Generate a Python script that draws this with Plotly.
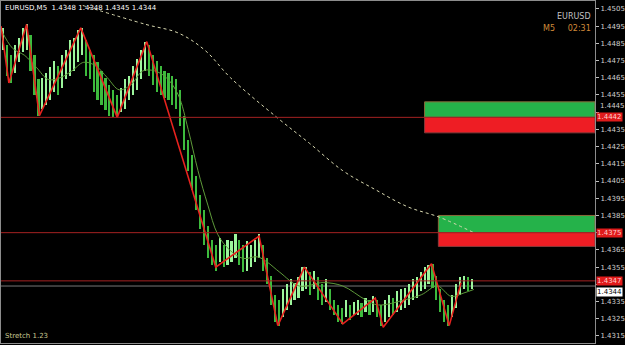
import plotly.graph_objects as go

# ---------------- data ----------------
bar_high = [1.4494, 1.4484, 1.4478, 1.4484, 1.4488, 1.4494, 1.4496, 1.4490, 1.4478, 1.4464,
            1.4465, 1.4468, 1.4471, 1.4475, 1.4472, 1.4478, 1.4481, 1.4487, 1.4488, 1.4493,
            1.4494, 1.4487, 1.4481, 1.4478, 1.4474, 1.4469, 1.4465, 1.4461, 1.4458, 1.4455,
            1.4459, 1.4464, 1.4466, 1.4472, 1.4476, 1.4481, 1.4486, 1.4484, 1.4478, 1.4475,
            1.4472, 1.4469, 1.4468, 1.4466, 1.4464, 1.4458, 1.4443, 1.4429, 1.4420, 1.4408,
            1.4397, 1.4388, 1.4379, 1.4371, 1.4368, 1.4372, 1.4368, 1.4371, 1.4370, 1.4374,
            1.4371, 1.4368, 1.4370, 1.4368, 1.4371, 1.4374, 1.4368, 1.4360, 1.4350, 1.4339,
            1.4336, 1.4342, 1.4345, 1.4348, 1.4346, 1.4349, 1.4355, 1.4355, 1.4352, 1.4353,
            1.4349, 1.4345, 1.4348, 1.4342, 1.4336, 1.4333, 1.4331, 1.4336, 1.4333, 1.4335,
            1.4336, 1.4334, 1.4337, 1.4336, 1.4338, 1.4336, 1.4333, 1.4336, 1.4339, 1.4337,
            1.4341, 1.4342, 1.4343, 1.4345, 1.4348, 1.4349, 1.4352, 1.4355, 1.4356, 1.4357,
            1.4350, 1.4342, 1.4336, 1.4333, 1.4339, 1.4345, 1.4349, 1.4350, 1.4349, 1.4348]
bar_low = [1.4481, 1.4466, 1.4462, 1.4468, 1.4474, 1.4480, 1.4481, 1.4469, 1.4455, 1.4443,
           1.4447, 1.4449, 1.4452, 1.4457, 1.4455, 1.4459, 1.4464, 1.4466, 1.4469, 1.4474,
           1.4478, 1.4466, 1.4464, 1.4457, 1.4452, 1.4449, 1.4446, 1.4443, 1.4442, 1.4442,
           1.4445, 1.4447, 1.4452, 1.4455, 1.4458, 1.4464, 1.4469, 1.4466, 1.4461, 1.4457,
           1.4455, 1.4453, 1.4452, 1.4449, 1.4447, 1.4437, 1.4423, 1.4411, 1.4400, 1.4388,
           1.4377, 1.4368, 1.4360, 1.4356, 1.4353, 1.4358, 1.4355, 1.4356, 1.4358, 1.4360,
           1.4356, 1.4352, 1.4353, 1.4355, 1.4358, 1.4360, 1.4353, 1.4345, 1.4333, 1.4323,
           1.4321, 1.4326, 1.4330, 1.4333, 1.4336, 1.4337, 1.4341, 1.4342, 1.4339, 1.4342,
           1.4336, 1.4333, 1.4335, 1.4330, 1.4327, 1.4323, 1.4322, 1.4326, 1.4324, 1.4327,
           1.4327, 1.4326, 1.4329, 1.4327, 1.4329, 1.4326, 1.4321, 1.4323, 1.4326, 1.4327,
           1.4329, 1.4330, 1.4331, 1.4333, 1.4336, 1.4337, 1.4341, 1.4342, 1.4345, 1.4343,
           1.4336, 1.4329, 1.4323, 1.4321, 1.4326, 1.4331, 1.4339, 1.4342, 1.4341, 1.4342]

zigzag_idx = [-0.5, 1.5, 6, 9.25, 19.75, 29, 36.5, 54, 65, 69.75, 76.5, 86.25, 94.5, 96.5, 108.75, 113.25, 116.25]
zigzag_price = [1.4495, 1.4462, 1.4496, 1.4443, 1.4494, 1.4442, 1.4486, 1.4355, 1.4373, 1.4321,
                1.4355, 1.4322, 1.4337, 1.4320, 1.4357, 1.4321, 1.4346]

ma_fast_idx = [-0.5, 2.5, 5.5, 8.5, 11.5, 14.5, 17.5, 20.5, 23.5, 26.5, 29.5, 32.5, 35.5, 38.5, 41.5,
               44.5, 47, 49.5, 52, 54.5, 57.5, 61, 64.5, 67, 70.25, 75.25, 81.25, 86.25, 92, 95.25,
               102, 106.25, 110.25, 113.75, 117, 119.5]
ma_fast = [1.4493, 1.4482, 1.4478, 1.4471, 1.4464, 1.4465, 1.4469, 1.4474, 1.4472, 1.4465, 1.4458,
           1.4461, 1.4469, 1.4469, 1.4465, 1.4455, 1.4435, 1.4411, 1.4391, 1.4374, 1.4365, 1.4360,
           1.4361, 1.4358, 1.4352, 1.4344, 1.4346, 1.4344, 1.4336, 1.4333, 1.4336, 1.4339, 1.4344,
           1.4338, 1.4340, 1.4342]

ma_slow_idx = [20.25, 36.25, 44.5, 51.25, 57.75, 69.5, 77.75, 86.25, 94.5, 102.75, 110.75, 119.5]
ma_slow = [1.4507, 1.4496, 1.4491, 1.4481, 1.4465, 1.4442, 1.4427, 1.4411, 1.4400, 1.4390, 1.4384, 1.4375]

level_lines = [1.4442, 1.4375, 1.4347]
level_labels = ["1.4442", "1.4375", "1.4347"]
bid_price = 1.4344

zones = [  # start index, green top, mid, red bottom
    (107.0, 1.4451, 1.4442, 1.4433),
    (110.5, 1.4385, 1.4375, 1.4367),
]

tick_values = [round(1.4315 + 0.001 * k, 4) for k in range(20)]
hidden_ticks = [1.4375, 1.4345]   # covered by the price labels
raised_ticks = [1.4445]           # drawn slightly above the 1.4442 label
tick_text = ["" if (v in hidden_ticks or v in raised_ticks) else "%.4f" % v for v in tick_values]

header_text = "EURUSD,M5  1.4348 1.4348 1.4345 1.4344"
footer_text = "Stretch 1.23"

# ---------------- figure ----------------
X_MIN, X_MAX = -0.5, 150.25
Y_MIN, Y_MAX = 1.43109, 1.45096

idx = list(range(len(bar_high)))
colors = []
for i in idx:
    mid = (bar_high[i] + bar_low[i]) / 2
    prev = (bar_high[i - 1] + bar_low[i - 1]) / 2 if i > 0 else mid
    colors.append("#9CF59C" if mid >= prev else "#3DBB3D")

fig = go.Figure()

shapes = []
for (x0, gtop, mid, rbot) in zones:
    shapes.append(dict(type="rect", xref="x", yref="y", x0=x0, x1=X_MAX, y0=mid, y1=gtop,
                       fillcolor="#25B24A", line=dict(color="#8A6A3A", width=1), layer="below"))
    shapes.append(dict(type="rect", xref="x", yref="y", x0=x0, x1=X_MAX, y0=rbot, y1=mid,
                       fillcolor="#EE1D24", line=dict(color="#8A3A3A", width=1), layer="below"))
for lv in level_lines:
    shapes.append(dict(type="line", xref="paper", yref="y", x0=0, x1=1, y0=lv, y1=lv,
                       line=dict(color="#A52222", width=1), layer="above"))
shapes.append(dict(type="line", xref="paper", yref="y", x0=0, x1=1, y0=bid_price, y1=bid_price,
                   line=dict(color="#777777", width=1), layer="below"))

fig.add_trace(go.Bar(x=idx, y=[h - l for h, l in zip(bar_high, bar_low)], base=bar_low,
                     width=0.55, marker=dict(color=colors, line=dict(width=0)),
                     hoverinfo="skip"))

fig.add_trace(go.Scatter(x=ma_slow_idx, y=ma_slow, mode="lines",
                         line=dict(color="#D8D8B0", width=1, dash="dot", shape="spline"),
                         hoverinfo="skip"))
fig.add_trace(go.Scatter(x=ma_fast_idx, y=ma_fast, mode="lines",
                         line=dict(color="#5E9A3A", width=1, shape="spline"),
                         hoverinfo="skip"))
fig.add_trace(go.Scatter(x=zigzag_idx, y=zigzag_price, mode="lines",
                         line=dict(color="#E8221E", width=1.6), hoverinfo="skip"))

axis_font = dict(size=7, color="#D0D0D0", family="DejaVu Sans")
annotations = []
for v in raised_ticks:
    annotations.append(dict(xref="paper", yref="y", x=1, y=v, xanchor="left", yanchor="bottom",
                            xshift=4, yshift=1, text="%.4f" % v, showarrow=False,
                            borderpad=0, font=axis_font))
for lv, txt in zip(level_lines, level_labels):
    annotations.append(dict(xref="paper", yref="y", x=1, y=lv, xanchor="left", yanchor="middle",
                            xshift=1, text=txt, showarrow=False, bgcolor="#E01B1B",
                            borderpad=0, font=dict(size=7, color="#FFD0D0", family="DejaVu Sans")))
annotations.append(dict(xref="paper", yref="y", x=1, y=bid_price, xanchor="left", yanchor="top",
                        xshift=1, yshift=-1, text="%.4f" % bid_price, showarrow=False, bgcolor="#FFFFFF",
                        borderpad=0, font=dict(size=7, color="#000000", family="DejaVu Sans")))
annotations.append(dict(xref="paper", yref="paper", x=0.003, y=0.998, xanchor="left", yanchor="top",
                        text=header_text, showarrow=False,
                        font=dict(size=7, color="#FFFFFF", family="DejaVu Sans")))
annotations.append(dict(xref="paper", yref="paper", x=0.003, y=0.002, xanchor="left", yanchor="bottom",
                        text=footer_text, showarrow=False,
                        font=dict(size=7, color="#C8C890", family="DejaVu Sans")))
annotations.append(dict(xref="paper", yref="paper", x=0.997, y=0.975, xanchor="right", yanchor="top",
                        text="EURUSD", showarrow=False,
                        font=dict(size=8, color="#C0C0C0", family="DejaVu Sans")))
annotations.append(dict(xref="paper", yref="paper", x=0.997, y=0.94, xanchor="right", yanchor="top",
                        text="M5&nbsp;&nbsp;&nbsp;&nbsp;&nbsp;02:31", showarrow=False,
                        font=dict(size=8, color="#D08A3A", family="DejaVu Sans")))

fig.update_layout(
    width=625, height=345,
    margin=dict(l=0, r=22, t=1, b=2),
    paper_bgcolor="#000000", plot_bgcolor="#000000",
    showlegend=False, bargap=0,
    shapes=shapes, annotations=annotations,
    xaxis=dict(range=[X_MIN, X_MAX], showgrid=False, zeroline=False, showticklabels=False,
               ticks="", showline=True, linecolor="#8C8C8C", linewidth=1, mirror=True,
               fixedrange=True),
    yaxis=dict(range=[Y_MIN, Y_MAX], side="right", showgrid=False, zeroline=False,
               tickvals=tick_values, ticktext=tick_text, ticks="outside", ticklen=3,
               tickcolor="#C0C0C0", tickfont=axis_font,
               showline=True, linecolor="#8C8C8C", linewidth=1, mirror=True, fixedrange=True),
)

fig.write_html("out.html")
